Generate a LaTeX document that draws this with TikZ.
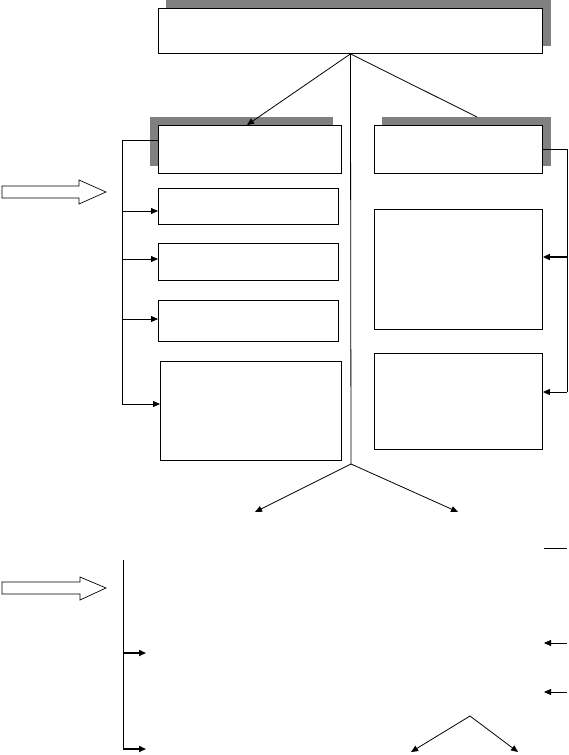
\documentclass[tikz,border=0pt]{standalone}
\usetikzlibrary{arrows.meta}
\begin{document}
\begin{tikzpicture}[x=1pt,y=-1pt,
  box/.style={draw,line width=0.9pt,inner sep=0pt,anchor=north west},
  shade/.style={fill=black!50},
  ln/.style={line width=0.8pt},
  tip/.style={ln,-{Triangle[length=7pt,width=6pt]}},
  thicktip/.style={line width=1.6pt,-{Triangle[length=7pt,width=6pt]}},
  hollow/.style={draw,line width=0.7pt,fill=white}]
\useasboundingbox (0,0) rectangle (569,755);
\fill[white] (0,0) rectangle (569,755);
% brackets (drawn under shadows)
\coordinate (lb0) at (122,140);
\coordinate (lb1) at (122,211);
\coordinate (lb2) at (122,259);
\coordinate (lb3) at (122,319);
\coordinate (lb4) at (122,404);
\coordinate (rb0) at (567,149);
\coordinate (rb1) at (567,257);
\coordinate (rb2) at (567,392);
% shadows
\fill[shade] (166,0) rectangle (551,46);
\fill[shade] (150,117) rectangle (333,166);
\fill[shade] (382,117) rectangle (551,166);
% boxes
\node[box,fill=white,minimum width=384pt,minimum height=45pt] (T) at (158,8) {};
\node[box,fill=white,minimum width=183pt,minimum height=48pt] (L1) at (158,125) {};
\node[box,fill=white,minimum width=168pt,minimum height=48pt] (R1) at (374,125) {};
\node[box,minimum width=180pt,minimum height=36pt] (L2) at (158,188) {};
\node[box,minimum width=180pt,minimum height=37pt] (L3) at (158,243) {};
\node[box,minimum width=180pt,minimum height=41pt] (L4) at (158,300) {};
\node[box,minimum width=181pt,minimum height=99pt] (L5) at (160,361) {};
\node[box,minimum width=168pt,minimum height=120pt] (R2) at (374,209) {};
\node[box,minimum width=168pt,minimum height=96pt] (R3) at (374,353) {};
% left bracket
\draw[ln] (lb0 -| L1.west) -- (lb0) -- (lb4);
\draw[tip] (lb1) -- (lb1 -| L2.west);
\draw[tip] (lb2) -- (lb2 -| L3.west);
\draw[tip] (lb3) -- (lb3 -| L4.west);
\draw[tip] (lb4) -- (lb4 -| L5.west);
% right bracket
\draw[ln] (rb0 -| R1.east) -- (rb0) -- (rb2);
\draw[thicktip] (rb1) -- (rb1 -| R2.east);
\draw[tip] (rb2) -- (rb2 -| R3.east);
% top fork and spine
\coordinate (ap) at (T.south);
\coordinate (l1top) at (247,125);
\coordinate (r1top) at (477,117);
\coordinate (mid) at (351,464);
\draw[tip] (ap) -- (l1top);
\draw[ln] (ap) -- (r1top);
\draw[ln] (ap) -- (mid);
% middle fork
\coordinate (ml) at (255,512);
\coordinate (mr) at (458,512);
\draw[tip] (mid) -- (ml);
\draw[tip] (mid) -- (mr);
% hollow arrows
\draw[hollow] (2,186) -- (79,186) -- (79,180) -- (106,192) -- (79,204) -- (79,198) -- (2,198) -- cycle;
\draw[hollow] (2,582) -- (80,582) -- (80,577) -- (106,588) -- (80,600) -- (80,594) -- (2,594) -- cycle;
% lower left
\coordinate (v0) at (123,560);
\coordinate (v1) at (123,653);
\coordinate (v2) at (123,749);
\coordinate (e1) at (146,653);
\coordinate (e2) at (146,749);
\draw[ln] (v0) -- (v2);
\draw[thicktip] (v1) -- (e1);
\draw[thicktip] (v2) -- (e2);
% lower right
\coordinate (s0) at (544,548);
\coordinate (s1) at (567,548);
\draw[ln] (s0) -- (s1);
\coordinate (a1) at (567,643);
\coordinate (b1) at (544,643);
\coordinate (a2) at (567,692);
\coordinate (b2) at (544,692);
\draw[tip] (a1) -- (b1);
\draw[tip] (a2) -- (b2);
% bottom fork
\coordinate (bf) at (470,716);
\coordinate (bl) at (411,752);
\coordinate (br) at (518,752);
\draw[tip] (bf) -- (bl);
\draw[tip] (bf) -- (br);
\end{tikzpicture}
\end{document}
